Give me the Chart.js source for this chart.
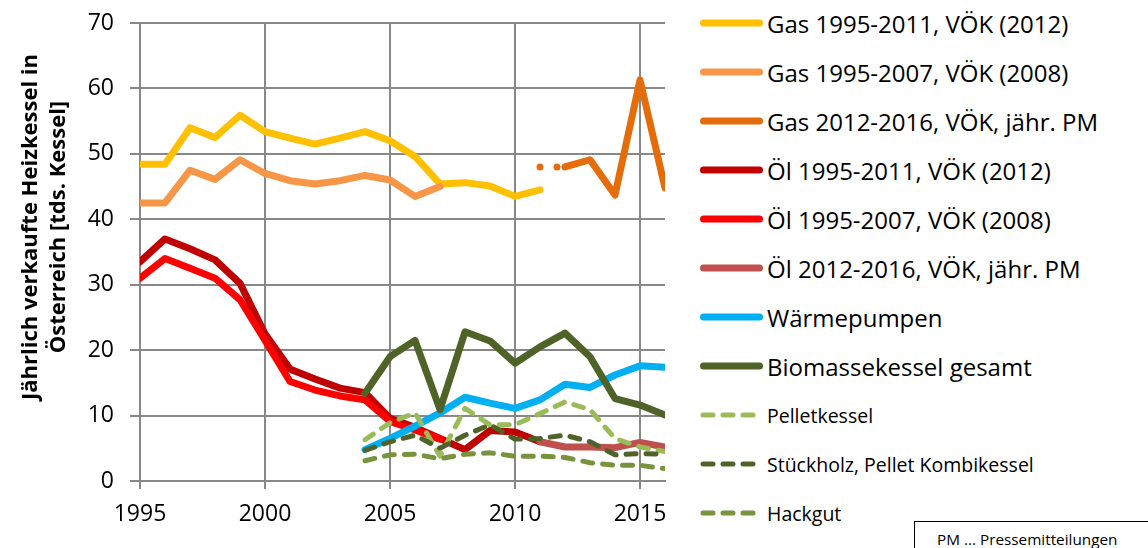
<!DOCTYPE html>
<html>
<head>
<meta charset="utf-8">
<script src="https://cdn.jsdelivr.net/npm/chart.js@4.4.1/dist/chart.umd.min.js"></script>
<style>
  body { margin: 0; background: #fff; width: 1148px; height: 548px; overflow: hidden; position: relative; font-family: "Open Sans", sans-serif; color: #000; }
  #wrap { position: absolute; left: 0; top: 0; width: 680px; height: 548px; }
  #ytitle { position: absolute; left: 42px; top: 227px; width: 0; height: 0; }
  #ytitle div { position: absolute; transform: translate(-50%, -50%) rotate(-90deg); white-space: nowrap; text-align: center; font-weight: bold; font-size: 22px; line-height: 28px; }
  .leg { position: absolute; left: 700px; height: 30px; display: flex; align-items: center; white-space: nowrap; }
  .leg svg { flex: none; }
  .leg span { margin-left: 4px; }
  #pmbox { position: absolute; left: 914px; top: 521px; width: 240px; height: 40px; border: 1.5px solid #000; box-sizing: border-box; font-size: 15.3px; line-height: 15.3px; }
  #pmbox span { position: absolute; left: 22px; top: 10px; white-space: nowrap; }
</style>
</head>
<body>
<div id="wrap"><canvas id="chart" width="680" height="548"></canvas></div>
<div id="ytitle"><div>Jährlich verkaufte Heizkessel in<br>Österreich [tds. Kessel]</div></div>
<div id="legend"></div>
<div id="pmbox"><span>PM ... Pressemitteilungen</span></div>
<script>
// years on the x axis
const years = [1995, 1996, 1997, 1998, 1999, 2000, 2001, 2002, 2003, 2004, 2005,
               2006, 2007, 2008, 2009, 2010, 2011, 2012, 2013, 2014, 2015, 2016];

// sold boilers in thousands
const gasVoek2012 = [48.4, 48.4, 54.0, 52.5, 55.9, 53.4, 52.4, 51.5, 52.4, 53.4, 52.0, 49.6, 45.4, 45.6, 45.1, 43.5, 44.5, null, null, null, null, null];
const gasVoek2008 = [42.5, 42.5, 47.5, 46.1, 49.1, 47.0, 45.9, 45.4, 45.9, 46.7, 46.0, 43.5, 45.0, null, null, null, null, null, null, null, null, null];
const gasPM       = [null, null, null, null, null, null, null, null, null, null, null, null, null, null, null, null, 48.0, 48.0, 49.1, 43.7, 61.3, 44.8];
const oelVoek2012 = [33.5, 37.0, 35.5, 33.8, 30.2, 22.5, 17.1, 15.6, 14.2, 13.5, 9.6, 8.2, 6.5, 4.8, 7.7, 7.5, 6.0, null, null, null, null, null];
const oelVoek2008 = [31.0, 34.0, 32.5, 31.0, 27.7, 21.5, 15.2, 13.9, 13.0, 12.4, 9.1, 7.8, 6.4, null, null, null, null, null, null, null, null, null];
const oelPM       = [null, null, null, null, null, null, null, null, null, null, null, null, null, null, null, null, 6.0, 5.2, 5.2, 5.1, 5.9, 5.2];
const waermepumpen = [null, null, null, null, null, null, null, null, null, 4.8, 6.5, 8.4, 10.4, 12.8, 11.9, 11.1, 12.4, 14.8, 14.3, 16.2, 17.6, 17.4];
const biomasse    = [null, null, null, null, null, null, null, null, null, 13.4, 19.0, 21.5, 10.9, 22.8, 21.4, 18.0, 20.5, 22.6, 19.0, 12.6, 11.6, 10.1];
const pellet      = [null, null, null, null, null, null, null, null, null, 6.3, 8.9, 10.4, 3.8, 11.1, 8.6, 8.6, 10.3, 12.1, 10.9, 6.5, 5.2, 4.5];
const stueckholz  = [null, null, null, null, null, null, null, null, null, 4.7, 6.0, 7.0, 5.0, 7.0, 8.6, 6.4, 6.5, 7.0, 6.0, 4.0, 4.2, 4.1];
const hackgut     = [null, null, null, null, null, null, null, null, null, 3.1, 4.0, 4.1, 3.4, 4.1, 4.3, 3.8, 3.8, 3.6, 2.8, 2.4, 2.4, 1.9];

const seriesNames = [
  "Gas 1995-2011, VÖK (2012)", "Gas 1995-2007, VÖK (2008)", "Gas 2012-2016, VÖK, jähr. PM",
  "Öl 1995-2011, VÖK (2012)", "Öl 1995-2007, VÖK (2008)", "Öl 2012-2016, VÖK, jähr. PM",
  "Wärmepumpen", "Biomassekessel gesamt", "Pelletkessel", "Stückholz, Pellet Kombikessel", "Hackgut"
];
const seriesValues = [gasVoek2012, gasVoek2008, gasPM, oelVoek2012, oelVoek2008, oelPM,
                      waermepumpen, biomasse, pellet, stueckholz, hackgut];
const seriesColors = ["#FFC000", "#F79646", "#E46C0A", "#C00000", "#FF0000", "#C0504D",
                      "#00B0F0", "#4F6228", "#9BBB59", "#4F6228", "#77933C"];
const seriesDashed = [false, false, false, false, false, false, false, false, true, true, true];

const gridGray = "#888888";
const tickFont = { family: "Open Sans", size: 23 };

const datasets = seriesValues.map((vals, i) => {
  const ds = {
    label: seriesNames[i],
    data: years.map((y, j) => ({ x: y, y: vals[j] })),
    borderColor: seriesColors[i],
    backgroundColor: seriesColors[i],
    borderWidth: seriesDashed[i] ? 5 : 7,
    borderDash: seriesDashed[i] ? [10, 10] : [],
    borderCapStyle: "round",
    borderJoinStyle: "round",
    pointRadius: 0,
    spanGaps: false,
    order: -i
  };
  // gas PM series: dotted link from 2011 to 2012
  if (vals === gasPM) {
    ds.segment = { borderDash: ctx => ctx.p0.parsed.x === 2011 ? [0, 17] : undefined };
  }
  return ds;
});

new Chart(document.getElementById("chart"), {
  type: "line",
  data: { datasets },
  options: {
    responsive: false,
    animation: false,
    layout: { padding: { top: 23, right: 15, left: 0, bottom: 0 } },
    plugins: { legend: { display: false }, tooltip: { enabled: false } },
    scales: {
      x: {
        type: "linear",
        min: 1995,
        max: 2016,
        afterFit: s => { s.height = 67; s.paddingLeft = 0; s.paddingRight = 0; },
        ticks: { stepSize: 5, includeBounds: false, color: "#000", font: tickFont, padding: 12, maxRotation: 0,
                 callback: v => String(v) },
        grid: { color: gridGray, lineWidth: 2, tickLength: 8, tickColor: gridGray },
        border: { color: gridGray, width: 2 }
      },
      y: {
        min: 0,
        max: 70,
        afterFit: s => { s.width = 140; s.paddingTop = 0; s.paddingBottom = 0; },
        ticks: { stepSize: 10, color: "#000", font: tickFont, padding: 16 },
        grid: { color: gridGray, lineWidth: 2, tickLength: 10, tickColor: gridGray },
        border: { color: gridGray, width: 2 }
      }
    }
  }
});

// legend at the right, drawn as html
const legend = document.getElementById("legend");
seriesNames.forEach((name, i) => {
  const row = document.createElement("div");
  row.className = "leg";
  row.style.top = (23 + 49 * i - 15) + "px";
  const c = seriesColors[i];
  const line = seriesDashed[i]
    ? `<line x1="3" y1="15" x2="53" y2="15" stroke="${c}" stroke-width="5" stroke-linecap="round" stroke-dasharray="10 10"/>`
    : `<line x1="3.5" y1="15" x2="59.5" y2="15" stroke="${c}" stroke-width="7" stroke-linecap="round"/>`;
  row.innerHTML = `<svg width="63" height="30">${line}</svg><span style="font-size:${seriesDashed[i] ? 19.5 : 24}px">${name}</span>`;
  legend.appendChild(row);
});
</script>
</body>
</html>
